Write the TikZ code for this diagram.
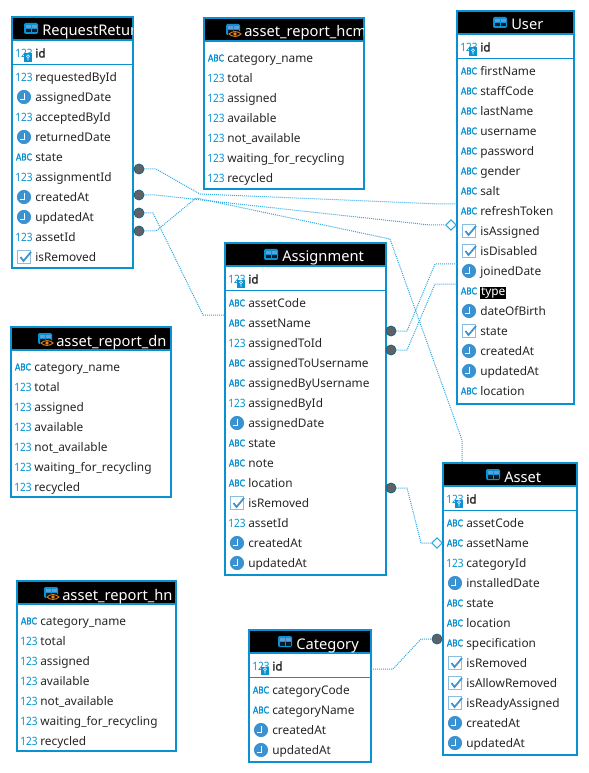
\documentclass[tikz,border=0pt]{standalone}
\usepackage{fontspec}
\usepackage{graphicx}
\setmainfont{Noto Sans}
\newfontfamily\fakebold[FakeBold=1.6]{Noto Sans}
\newfontfamily\abcbold{DejaVu Sans}[FakeBold=2.4]
\usetikzlibrary{shapes.geometric}
\definecolor{erblue}{HTML}{0A91D2}
\definecolor{iconblue}{HTML}{3A93D0}
\definecolor{relblue}{HTML}{2FA9E2}
\definecolor{eyeor}{HTML}{E8821E}
\newcommand\hl[1]{{\setlength{\fboxsep}{0.6pt}\colorbox{black}{\textcolor{white}{#1}}}}
\tikzset{
  x=0.75pt,y=-0.75pt,
  tablebox/.style={draw=erblue,line width=1.6pt,fill=white,anchor=north west,inner sep=0pt,outer sep=0pt},
  rowtext/.style={anchor=base west,inner sep=0pt,font=\fontsize{8.9pt}{11pt}\selectfont,text=black!85},
  titletext/.style={anchor=base west,inner sep=0pt,font=\fontsize{11pt}{13pt}\selectfont,text=white},
  numtext/.style={inner sep=0pt,font=\fontsize{8.6pt}{10pt}\selectfont,text=erblue},
  abctext/.style={inner sep=0pt,font=\fontsize{7pt}{9pt}\abcbold,text=erblue},
  rel/.style={draw=relblue,line width=0.75pt,dash pattern=on 0.75pt off 0.75pt},
  reldot/.style={circle,fill=black!62,draw=erblue!70!black,line width=0.5pt,minimum size=7.6pt,inner sep=0pt},
  reldiamond/.style={diamond,draw=relblue,fill=white,line width=0.7pt,minimum width=8pt,minimum height=8pt,inner sep=0pt},
}
% row icons
\newcommand\iconN[2]{\node[numtext] at (#1,#2) {\scalebox{.88}[1]{123}};}
\newcommand\iconA[2]{\node[abctext] at (#1,#2) {\scalebox{.84}[1]{ABC}};}
\newcommand\iconC[2]{\fill[iconblue] (#1,#2) circle[radius=5.3pt];
  \draw[white,line width=0.7pt] (#1,#2-4) -- (#1,#2+2.5) -- (#1-4,#2+2.5);}
\newcommand\iconK[2]{\draw[iconblue!60,line width=0.7pt,fill=white] (#1-6.5,#2-6.5) rectangle (#1+6.5,#2+6.5);
  \draw[iconblue,line width=1.3pt] (#1-3.5,#2) -- (#1-0.5,#2+4) -- (#1+7,#2-5);}
\newcommand\iconI[2]{\node[numtext] at (#1,#2) {\scalebox{.88}[1]{123}};
  \fill[erblue] (#1,#2+0.5) rectangle (#1+8,#2+9);
  \draw[white,line width=0.45pt] (#1+4,#2+3.3) circle[radius=1.5] (#1+4,#2+4.8) -- (#1+4,#2+7.5);}
\newcommand\tableicon[2]{%
  \fill[erblue] (#1,#2) [rounded corners=1pt] rectangle (#1+14,#2+11);
  \fill[cyan!60!blue!65] (#1+1.5,#2+2) rectangle (#1+6.6,#2+5);
  \fill[cyan!60!blue!65] (#1+7.6,#2+2) rectangle (#1+12.5,#2+5);
  \fill[black!80!erblue] (#1+1.5,#2+6) rectangle (#1+6.6,#2+9.5);
  \fill[black!80!erblue] (#1+7.6,#2+6) rectangle (#1+12.5,#2+9.5);
}
\newcommand\eyeicon[2]{%
  \fill[black] (#1+9,#2+10) ellipse[x radius=7,y radius=3.6];
  \draw[eyeor,line width=0.7pt] (#1+3,#2+10) .. controls (#1+6,#2+6.8) and (#1+12,#2+6.8) .. (#1+15,#2+10)
     .. controls (#1+12,#2+13.2) and (#1+6,#2+13.2) .. (#1+3,#2+10) -- cycle;
  \fill[eyeor] (#1+9,#2+10) circle[radius=1.8];
}
\newcommand\tablehead[7]{%
  \node[tablebox,minimum width={(#3-#2)*0.75pt},minimum height={(#5-#4)*0.75pt}] (#1) at (#2,#4) {};
  \fill[black] (#2,#4) rectangle (#3,#4+23);
  \draw[erblue,line width=1.4pt] (#2,#4) rectangle (#3,#4+23);
  \begin{scope}
    \clip (#2,#4) rectangle (#3-1,#4+22);
    \tableicon{#7-18}{#4+6}
    \node[titletext] (#1-title) at (#7,#4+19) {#6};
  \end{scope}
}
\newcommand\tablerows[4]{%
  \foreach \tp/\tx [count=\i from 0] in {#4}{
    \csname icon\tp\endcsname{#2+12}{#3+20*\i}
    \node[rowtext] (#1-\i) at (#2+23,#3+20*\i+4.5) {\tx};
  }
}
\newcommand\keytable[8]{%
  \tablehead{#1}{#2}{#3}{#4}{#5}{#6}{#7}
  \iconI{#2+12}{#4+36}
  \node[rowtext,font=\fontsize{8.9pt}{11pt}\fakebold] (#1-id) at (#2+23,#4+40.5) {id};
  \draw[erblue,line width=0.7pt] (#2,#4+47) -- (#3,#4+47);
  \tablerows{#1}{#2}{#4+60}{#8}
}
\newcommand\viewtable[7]{%
  \tablehead{#1}{#2}{#3}{#4}{#5}{#6}{#7}
  \eyeicon{#7-18}{#4+6}
  \tablerows{#1}{#2}{#4+40}{A/category\_name,N/total,N/assigned,N/available,N/not\_available,N/waiting\_for\_recycling,N/recycled}
}
\begin{document}
\begin{tikzpicture}
\useasboundingbox (0,0) rectangle (588,773);
\fill[white] (0,0) rectangle (588,773);

\keytable{reqret}{12}{133}{17}{268}{RequestReturn}{42}{N/requestedById,C/assignedDate,N/acceptedById,C/returnedDate,A/state,N/assignmentId,C/createdAt,C/updatedAt,N/assetId,K/isRemoved}
\viewtable{hcm}{204}{364}{18}{189}{asset\_report\_hcm}{244}
\viewtable{dn}{11}{171}{327}{497}{asset\_report\_dn}{56}
\viewtable{hn}{17}{176}{581}{751}{asset\_report\_hn}{62}
\keytable{user}{457}{574}{11}{404}{User}{511}{A/firstName,A/staffCode,A/lastName,A/username,A/password,A/gender,A/salt,A/refreshToken,K/isAssigned,K/isDisabled,C/joinedDate,A/\hl{type},C/dateOfBirth,K/state,C/createdAt,C/updatedAt,A/location}
\keytable{assignment}{225}{386}{243}{575}{Assignment}{282}{A/assetCode,A/assetName,N/assignedToId,A/assignedToUsername,A/assignedByUsername,N/assignedById,C/assignedDate,A/state,A/note,A/location,K/isRemoved,N/assetId,C/createdAt,C/updatedAt}
\keytable{asset}{443}{577}{463}{755}{Asset}{504}{A/assetCode,A/assetName,N/categoryId,C/installedDate,A/state,A/location,A/specification,K/isRemoved,K/isAllowRemoved,K/isReadyAssigned,C/createdAt,C/updatedAt}
\keytable{category}{249}{371}{630}{762}{Category}{296}{A/categoryCode,A/categoryName,C/createdAt,C/updatedAt}

% end points
\node[reldot] (dA) at (139,169) {};
\node[reldot] (dB) at (139,195) {};
\node[reldot] (dC) at (139,231) {};
\node[reldot] (dD) at (139,213) {};
\node[reldot] (dE) at (391,331) {};
\node[reldot] (dF) at (391,350) {};
\node[reldot] (dG) at (391,488) {};
\node[reldot] (dH) at (437,639) {};
\node[reldiamond] (dmB) at (451,225) {};
\node[reldiamond] (dmG) at (437,543) {};
\coordinate (eA) at (user.west |- 0,204);
\coordinate (eC) at (462,463);
\coordinate (eD) at (assignment.west |- 0,315);
\coordinate (eE) at (user.west |- 0,264);
\coordinate (eF) at (user.west |- 0,284);
\coordinate (eH) at (category.east |- 0,669);

% connectors
\draw[rel] (dA) -- (156,169) -- (200,194) -- (440,204) -- (eA);
\draw[rel] (dB) -- (156,195) -- (430,225) -- (dmB);
\draw[rel] (dC) -- (156,231) -- (196,198) -- (390,239) -- (462,440) -- (eC);
\draw[rel] (dD) -- (153,213) -- (203,315) -- (eD);
\draw[rel] (dE) -- (407,331) -- (435,264) -- (eE);
\draw[rel] (dF) -- (407,350) -- (435,284) -- (eF);
\draw[rel] (dG) -- (407,488) -- (421,543) -- (dmG);
\draw[rel] (eH) -- (393,669) -- (421,639) -- (dH);
\end{tikzpicture}
\end{document}
